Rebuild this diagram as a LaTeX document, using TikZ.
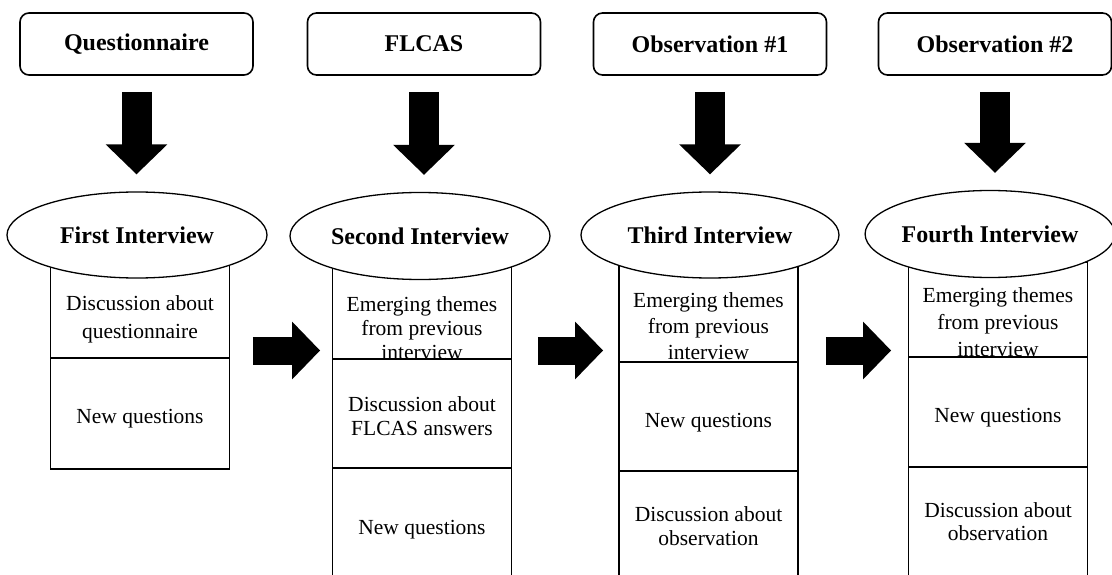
\documentclass[tikz,border=0pt]{standalone}
\usepackage{fontspec}
\setmainfont{Liberation Serif}
\usetikzlibrary{arrows.meta,shapes.geometric}
\begin{document}
\begin{tikzpicture}[x=1pt,y=-1pt,
  topbox/.style={draw, line width=1.6pt, rounded corners=9pt, minimum width=233pt, minimum height=62pt, inner sep=0pt, font=\bfseries\fontsize{24}{28}\selectfont},
  interview/.style={draw, ellipse, fill=white, line width=1.3pt, inner sep=0pt, font=\bfseries\fontsize{24}{28}\selectfont},
  sect/.style={draw, line width=1.8pt, inner sep=0pt, minimum width=179pt},
  body/.style={align=center, inner sep=0pt, yshift=-2.5pt, font=\fontsize{21.5}{25}\selectfont},
  blockdown/.style={line width=30pt, -{Triangle[length=30pt,width=60pt]}, shorten <=16pt, shorten >=17pt},
  blockright/.style={line width=28pt, -{Triangle[length=28pt,width=56pt]}},
]
\useasboundingbox (0,0) rectangle (1112,575);
\clip (0,0) rectangle (1112,575);

% top boxes
\node[topbox] (q)  at (136.5,44) {Questionnaire};
\node[topbox] (f)  at (424,44)   {FLCAS};
\node[topbox] (o1) at (710,44)   {Observation \#1};
\node[topbox] (o2) at (995,44)   {Observation \#2};

% column sections
\node[sect, minimum height=96pt]  (r1a) at (140,310) {};
\node[sect, minimum height=111pt] (r1b) at (140,413.5) {};

\node[sect, minimum height=97pt]  (r2a) at (422,310.5) {};
\node[sect, minimum height=109pt] (r2b) at (422,413.5) {};
\node[sect, minimum height=132pt] (r2c) at (422,534) {};

\node[sect, minimum height=100pt] (r3a) at (708.5,312) {};
\node[sect, minimum height=109pt] (r3b) at (708.5,416.5) {};
\node[sect, minimum height=129pt] (r3c) at (708.5,535.5) {};

\node[sect, minimum height=95pt]  (r4a) at (998,309.5) {};
\node[sect, minimum height=110pt] (r4b) at (998,412) {};
\node[sect, minimum height=133pt] (r4c) at (998,533.5) {};

% section texts
\node[body, font=\fontsize{21.5}{28}\selectfont] (t1a) at (140,317) {Discussion about\\questionnaire};
\node[body] (t1b) at (140,416) {New questions};

\node[body, font=\fontsize{21.5}{24}\selectfont] (t2a) at (422,326) {Emerging themes\\from previous\\interview};
\node[body, font=\fontsize{21.5}{23.5}\selectfont] (t2b) at (422,413.5) {Discussion about\\FLCAS answers};
\node[body] (t2c) at (422,527) {New questions};

\node[body, font=\fontsize{21.5}{26}\selectfont] (t3a) at (708.5,324) {Emerging themes\\from previous\\interview};
\node[body] (t3b) at (708.5,420) {New questions};
\node[body, font=\fontsize{21.5}{23.5}\selectfont] (t3c) at (708.5,523.5) {Discussion about\\observation};

\node[body, font=\fontsize{21.5}{27}\selectfont] (t4a) at (998,319.5) {Emerging themes\\from previous\\interview};
\node[body] (t4b) at (998,415) {New questions};
\node[body, font=\fontsize{21.5}{22.5}\selectfont] (t4c) at (998,519) {Discussion about\\observation};

% interview ellipses
\node[interview, minimum width=260pt, minimum height=86pt] (e1) at (137,235) {First Interview};
\node[interview, minimum width=260pt, minimum height=87pt] (e2) at (420,236) {Second Interview};
\node[interview, minimum width=258pt, minimum height=86pt] (e3) at (710,235) {Third Interview};
\node[interview, minimum width=244pt, minimum height=87pt] (e4) at (990,234) {Fourth Interview};

% down block arrows
\draw[blockdown] (q.south)  -- (q.south  |- e1.north);
\draw[blockdown] (f.south)  -- (f.south  |- e2.north);
\draw[blockdown] (o1.south) -- (o1.south |- e3.north);
\draw[blockdown] (o2.south) -- (o2.south |- e4.north);

% right block arrows
\coordinate (ay) at (0,350.5);
\draw[blockright, shorten <=22.5pt, shorten >=11.5pt] (r1a.east |- ay) -- (r2a.west |- ay);
\draw[blockright, shorten <=25.5pt, shorten >=15pt]   (r2a.east |- ay) -- (r3a.west |- ay);
\draw[blockright, shorten <=27pt, shorten >=16.5pt]   (r3a.east |- ay) -- (r4a.west |- ay);
\end{tikzpicture}
\end{document}
